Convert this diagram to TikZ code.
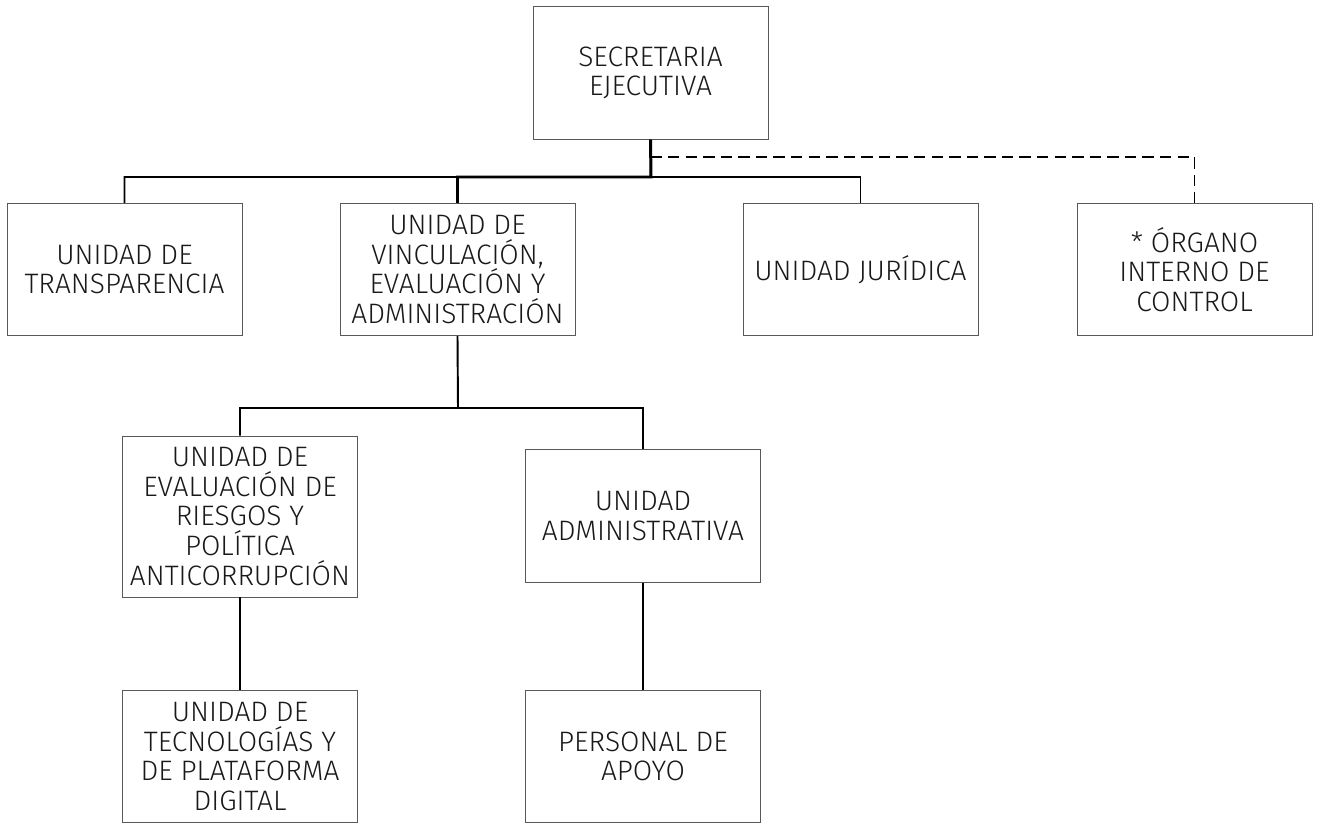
\documentclass[tikz,border=0pt]{standalone}
\usepackage{fontspec}
\setmainfont{Fira Sans Light}
\usetikzlibrary{calc}

\tikzset{
	caja/.style={draw=black!65, line width=0.5pt, minimum width=4.7cm, minimum height=2.65cm, align=center, inner sep=2pt, text=black!90, font=\fontsize{16}{16.8}\selectfont},
	linea/.style={line width=1.1pt},
	lineagruesa/.style={line width=1.7pt}
}

\begin{document}
\begin{tikzpicture}[x=0.02cm,y=-0.02cm]
			\useasboundingbox (0,0) rectangle (1320,824);
			
			%primer nivel
			\node[caja] (sec) at (650.5,73) {SECRETARIA\\EJECUTIVA};
			
			%segundo nivel
			\node[caja] (transp) at (124.5,269.5) {UNIDAD DE\\TRANSPARENCIA};
			\node[caja] (vinc) at (457.5,269.5) {UNIDAD DE\\VINCULACIÓN,\\EVALUACIÓN Y\\ADMINISTRACIÓN};
			\node[caja] (jur) at (860.5,269.5) {UNIDAD JURÍDICA};
			\node[caja] (oic) at (1194.5,269.5) {* ÓRGANO\\INTERNO DE\\CONTROL};
			
			%tercer nivel
			\node[caja, minimum height=3.22cm] (riesgos) at (240,516.5) {UNIDAD DE\\EVALUACIÓN DE\\RIESGOS Y\\POLÍTICA\\ANTICORRUPCIÓN};
			\node[caja] (admin) at (643,516) {UNIDAD\\ADMINISTRATIVA};
			
			%cuarto nivel
			\node[caja] (tecno) at (240,756.5) {UNIDAD DE\\TECNOLOGÍAS Y\\DE PLATAFORMA\\DIGITAL};
			\node[caja] (apoyo) at (643,756.5) {PERSONAL DE\\APOYO};
			
			%conectores del primer nivel
			\coordinate (J1) at (651,177);
			\draw[linea] (sec.south) -- (J1) -| (transp.north);
			\draw[linea] (J1) -| (jur.north);
			\draw[lineagruesa] (sec.south) -- (J1) -| (vinc.north);
			\draw[linea, dash pattern=on 6.5pt off 3.5pt] ($(sec.south)+(0,17)$) -| (oic.north);
			
			%conectores del segundo nivel
			\coordinate (J2) at (458,408);
			\draw[linea] (vinc.south) -- (J2) -| (riesgos.north);
			\draw[linea] (J2) -| (admin.north);
			
			%conectores del tercer nivel
			\draw[linea] (riesgos.south) -- (tecno.north);
			\draw[linea] (admin.south) -- (apoyo.north);
		\end{tikzpicture}
\end{document}
